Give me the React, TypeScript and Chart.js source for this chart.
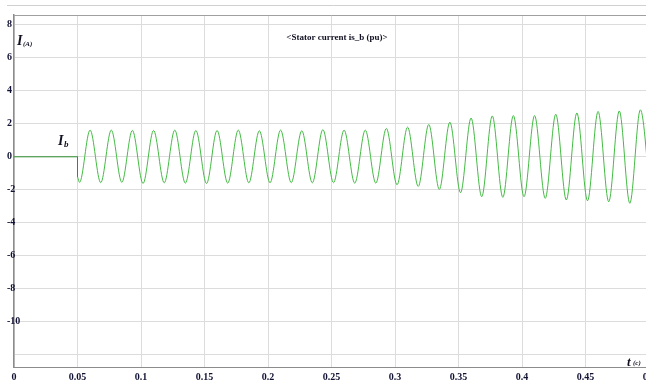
import React, { useEffect, useRef } from 'react';
import { Chart, registerables } from 'chart.js';

Chart.register(...registerables);

// ---- data ----
const xTickValues = [0, 0.05, 0.1, 0.15, 0.2, 0.25, 0.3, 0.35, 0.4, 0.45, 0.5];
const xTickLabels = ['0', '0.05', '0.1', '0.15', '0.2', '0.25', '0.3', '0.35', '0.4', '0.45', '0.5'];
const yTickValues = [8, 6, 4, 2, 0, -2, -4, -6, -8, -10, -12];
const yTickLabels = ['8', '6', '4', '2', '0', '-2', '-4', '-6', '-8', '-10', ''];

// current is zero until the switch-on, then drops
const preStepT = [0, 0.05, 0.05];
const preStepI = [0, 0, -1.2];

// successive troughs / peaks of the stator current (t in s, i in pu)
const extremaT = [
  0.05, 0.0516, 0.0599, 0.0683, 0.0766, 0.0849, 0.0932, 0.1016, 0.1099, 0.1183, 0.1266,
  0.1349, 0.1432, 0.1516, 0.1599, 0.1683, 0.1766, 0.1849, 0.1932, 0.2016, 0.2099,
  0.2183, 0.2266, 0.2349, 0.2432, 0.2516, 0.2599, 0.2683, 0.2766, 0.2849, 0.2932,
  0.3016, 0.3099, 0.3183, 0.3266, 0.3349, 0.3432, 0.3516, 0.3599, 0.3683, 0.3766,
  0.3849, 0.3932, 0.4016, 0.4099, 0.4183, 0.4266, 0.4349, 0.4432, 0.4516, 0.4599,
  0.4683, 0.4766, 0.4849, 0.4932, 0.5016,
];
const extremaI = [
  -1.2, -1.55, 1.62, -1.57, 1.62, -1.55, 1.6, -1.62, 1.6, -1.58, 1.62,
  -1.6, 1.6, -1.62, 1.6, -1.6, 1.62, -1.58, 1.58, -1.58, 1.62,
  -1.57, 1.58, -1.58, 1.65, -1.57, 1.62, -1.6, 1.62, -1.6, 1.72,
  -1.7, 1.8, -1.8, 1.96, -1.98, 2.1, -2.18, 2.35, -2.42, 2.48,
  -2.46, 2.5, -2.42, 2.5, -2.52, 2.58, -2.62, 2.66, -2.67, 2.75,
  -2.73, 2.78, -2.82, 2.85, -2.85,
];

const titleText = '<Stator current is_b (pu)>';

const SERIF = '"Liberation Serif", "Times New Roman", serif';

const overlay = {
  id: 'overlay',
  beforeDraw(chart: any) {
    const { ctx } = chart;
    ctx.save();
    ctx.strokeStyle = '#d0d0d0';
    ctx.lineWidth = 1;
    ctx.beginPath();
    ctx.moveTo(7, 5.5);
    ctx.lineTo(chart.width, 5.5);
    ctx.stroke();
    ctx.restore();
  },
  afterDraw(chart: any) {
    const { ctx, chartArea: a } = chart;
    ctx.save();
    // top frame line
    ctx.strokeStyle = '#a0a0a0';
    ctx.lineWidth = 1;
    ctx.beginPath();
    ctx.moveTo(a.left, a.top + 0.5);
    ctx.lineTo(a.right, a.top + 0.5);
    ctx.stroke();

    ctx.fillStyle = '#111122';
    ctx.textBaseline = 'alphabetic';
    // title
    ctx.textAlign = 'center';
    ctx.font = `bold 9px ${SERIF}`;
    ctx.fillText(titleText, a.left + 323, a.top + 25);

    ctx.textAlign = 'left';
    // y axis name  I (A)
    ctx.font = `italic bold 14px ${SERIF}`;
    ctx.fillText('I', a.left + 3, a.top + 30);
    ctx.font = `italic bold 7px ${SERIF}`;
    ctx.fillText('(A)', a.left + 9, a.top + 31);

    // curve name  I b
    ctx.font = `italic bold 14px ${SERIF}`;
    ctx.fillText('I', a.left + 44, a.top + 130);
    ctx.font = `italic bold 9px ${SERIF}`;
    ctx.fillText('b', a.left + 50, a.top + 132);

    // x axis name  t (c)
    ctx.font = `italic bold 13px ${SERIF}`;
    ctx.fillText('t', a.left + 613, a.bottom - 1);
    ctx.font = `italic bold 7px ${SERIF}`;
    ctx.fillText('(c)', a.left + 619, a.bottom - 2);
    ctx.restore();
  },
};

export default function App() {
  const ref = useRef<HTMLCanvasElement | null>(null);

  useEffect(() => {
    if (!ref.current) return;
    const pre = preStepT.map((t, i) => ({ x: t, y: preStepI[i] }));
    const wave = extremaT.map((t, i) => ({ x: t, y: extremaI[i] }));

    const chart = new Chart(ref.current, {
      type: 'line',
      data: {
        datasets: [
          {
            data: pre,
            borderColor: '#2f8f2f',
            borderWidth: 1,
            pointRadius: 0,
            tension: 0,
          },
          {
            data: wave,
            borderColor: '#44bb44',
            borderWidth: 1,
            pointRadius: 0,
            cubicInterpolationMode: 'monotone',
          },
        ],
      },
      options: {
        animation: false,
        responsive: false,
        parsing: false as any,
        layout: { padding: { left: 0, top: 15, right: 11, bottom: 0 } },
        plugins: { legend: { display: false }, tooltip: { enabled: false } },
        scales: {
          x: {
            type: 'linear',
            min: 0,
            max: 0.5,
            afterBuildTicks: (s: any) => {
              s.ticks = xTickValues.map((v) => ({ value: v }));
            },
            afterFit: (s: any) => {
              s.height = 13;
              s.paddingLeft = 0;
              s.paddingRight = 0;
            },
            grid: { color: '#dcdcdc', lineWidth: 1, drawTicks: false },
            border: { color: '#8c8c8c', width: 1 },
            ticks: {
              autoSkip: false,
              maxRotation: 0,
              minRotation: 0,
              padding: 4,
              color: '#111133',
              font: { family: SERIF, size: 10, weight: 'bold' },
              callback: (_v: any, i: number) => xTickLabels[i],
            },
          },
          y: {
            type: 'linear',
            min: -12.75,
            max: 8.6,
            afterBuildTicks: (s: any) => {
              s.ticks = yTickValues.map((v) => ({ value: v }));
            },
            afterFit: (s: any) => {
              s.width = 14;
              s.paddingTop = 0;
              s.paddingBottom = 0;
            },
            grid: { color: '#dcdcdc', lineWidth: 1, drawTicks: false },
            border: { color: '#8c8c8c', width: 1.5 },
            ticks: {
              autoSkip: false,
              mirror: true,
              crossAlign: 'near',
              padding: -7,
              color: '#111133',
              font: { family: SERIF, size: 10, weight: 'bold' },
              callback: (_v: any, i: number) => yTickLabels[i],
            },
          },
        },
      } as any,
      plugins: [overlay],
    });
    return () => chart.destroy();
  }, []);

  return (
    <div
      style={{
        position: 'absolute',
        left: 0,
        top: 0,
        width: 646,
        height: 380,
        overflow: 'hidden',
        background: '#fff',
      }}
    >
      <canvas ref={ref} width={660} height={380} style={{ display: 'block', width: 660, height: 380 }} />
    </div>
  );
}
